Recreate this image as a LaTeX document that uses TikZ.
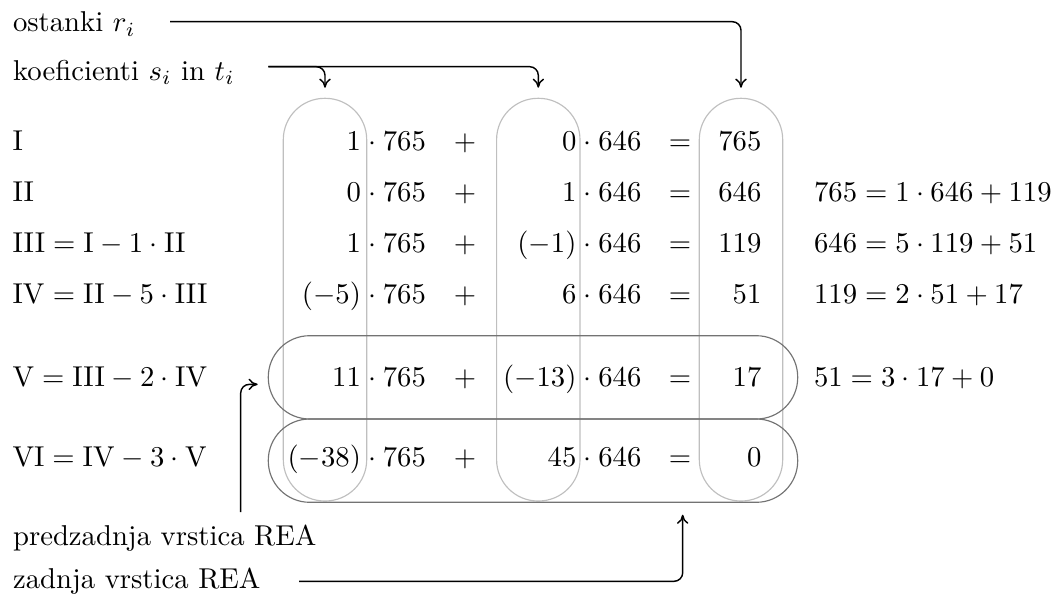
\documentclass[tikz,border=0pt]{standalone}
\usetikzlibrary{arrows.meta}
\begin{document}
\begin{tikzpicture}[x=0.3484pt,y=-0.3484pt,
  txt/.style={inner sep=0pt,anchor=base west},
  rnum/.style={inner sep=0pt,anchor=base east},
  lnum/.style={inner sep=0pt,anchor=base west},
  opr/.style={inner sep=0pt,anchor=base},
  colbox/.style={draw=black!25,rounded corners=14.4pt,minimum width=29.06pt,minimum height=140.3pt,inner sep=0pt},
  rowbox/.style={draw=black!55,rounded corners=14.4pt,minimum width=184.45pt,minimum height=29.02pt,inner sep=0pt},
  conn/.style={-{To[length=3.2pt,width=4pt]},line width=0.5pt,rounded corners=3pt}]
\useasboundingbox (0,0) rectangle (1057,594);
% column boxes
\node[colbox] (c1) at (325,299.65) {};
\node[colbox] (c2) at (538.3,299.65) {};
\node[colbox] (c3) at (741,299.65) {};
% row boxes
\node[rowbox] (rV) at (533,377.35) {};
\node[rowbox] (rVI) at (533,460.65) {};
% top labels
\node[txt] (os) at (12.5,31.7) {ostanki $r_i$};
\node[txt] (ko) at (12.5,80) {koeficienti $s_i$ in $t_i$};
% row I
\node[txt] (l1) at (12,150) {$\mathrm{I}$};
\node[rnum] (s1) at (361.5,150) {$1$};
\node[lnum] (a1) at (361.5,150) {${}\cdot 765$};
\node[opr] (p1) at (465,150) {$+$};
\node[rnum] (t1) at (577,150) {$0$};
\node[lnum] (b1) at (577,150) {${}\cdot 646$};
\node[opr] (e1) at (680,150) {$=$};
\node[rnum] (r1) at (762,150) {$765$};
% row II
\node[txt] (l2) at (12,201.7) {$\mathrm{II}$};
\node[rnum] (s2) at (361.5,201.7) {$0$};
\node[lnum] (a2) at (361.5,201.7) {${}\cdot 765$};
\node[opr] (p2) at (465,201.7) {$+$};
\node[rnum] (t2) at (577,201.7) {$1$};
\node[lnum] (b2) at (577,201.7) {${}\cdot 646$};
\node[opr] (e2) at (680,201.7) {$=$};
\node[rnum] (r2) at (762,201.7) {$646$};
\node[txt] (q2) at (813.5,201.7) {$765=1\cdot 646+119$};
% row III
\node[txt] (l3) at (12,252.7) {$\mathrm{III}=\mathrm{I}-1\cdot\mathrm{II}$};
\node[rnum] (s3) at (361.5,252.7) {$1$};
\node[lnum] (a3) at (361.5,252.7) {${}\cdot 765$};
\node[opr] (p3) at (465,252.7) {$+$};
\node[rnum] (t3) at (577,252.7) {$(-1)$};
\node[lnum] (b3) at (577,252.7) {${}\cdot 646$};
\node[opr] (e3) at (680,252.7) {$=$};
\node[rnum] (r3) at (762,252.7) {$119$};
\node[txt] (q3) at (813.5,252.7) {$646=5\cdot 119+51$};
% row IV
\node[txt] (l4) at (12,303.5) {$\mathrm{IV}=\mathrm{II}-5\cdot\mathrm{III}$};
\node[rnum] (s4) at (361.5,303.5) {$(-5)$};
\node[lnum] (a4) at (361.5,303.5) {${}\cdot 765$};
\node[opr] (p4) at (465,303.5) {$+$};
\node[rnum] (t4) at (577,303.5) {$6$};
\node[lnum] (b4) at (577,303.5) {${}\cdot 646$};
\node[opr] (e4) at (680,303.5) {$=$};
\node[rnum] (r4) at (762,303.5) {$51$};
\node[txt] (q4) at (813.5,303.5) {$119=2\cdot 51+17$};
% row V
\node[txt] (l5) at (12,386.7) {$\mathrm{V}=\mathrm{III}-2\cdot\mathrm{IV}$};
\node[rnum] (s5) at (361.5,386.7) {$11$};
\node[lnum] (a5) at (361.5,386.7) {${}\cdot 765$};
\node[opr] (p5) at (465,386.7) {$+$};
\node[rnum] (t5) at (577,386.7) {$(-13)$};
\node[lnum] (b5) at (577,386.7) {${}\cdot 646$};
\node[opr] (e5) at (680,386.7) {$=$};
\node[rnum] (r5) at (762,386.7) {$17$};
\node[txt] (q5) at (813.5,386.7) {$51=3\cdot 17+0$};
% row VI
\node[txt] (l6) at (12,466.7) {$\mathrm{VI}=\mathrm{IV}-3\cdot\mathrm{V}$};
\node[rnum] (s6) at (361.5,466.7) {$(-38)$};
\node[lnum] (a6) at (361.5,466.7) {${}\cdot 765$};
\node[opr] (p6) at (465,466.7) {$+$};
\node[rnum] (t6) at (577,466.7) {$45$};
\node[lnum] (b6) at (577,466.7) {${}\cdot 646$};
\node[opr] (e6) at (680,466.7) {$=$};
\node[rnum] (r6) at (762,466.7) {$0$};
% bottom labels
\node[txt] (pr) at (12.5,545) {predzadnja vrstica REA};
\node[txt] (za) at (12.5,588.3) {zadnja vrstica REA};
% connector ends
\coordinate (osS) at (170,21.7);
\coordinate (koS) at (268.3,66.7);
\coordinate (prS) at (240.7,512);
\coordinate (zaS) at (299,581.3);
\coordinate (zaT) at (682.7,514.7);
% connectors
\draw[conn] (osS) -| ([shift={(0,-10)}]c3.north);
\draw[conn] (koS) -| ([shift={(0,-10)}]c1.north);
\draw[conn] (koS) -| ([shift={(0,-10)}]c2.north);
\draw[conn] (prS) |- ([shift={(-10,7)}]rV.west);
\draw[conn] (zaS) -| (zaT);
\end{tikzpicture}
\end{document}
